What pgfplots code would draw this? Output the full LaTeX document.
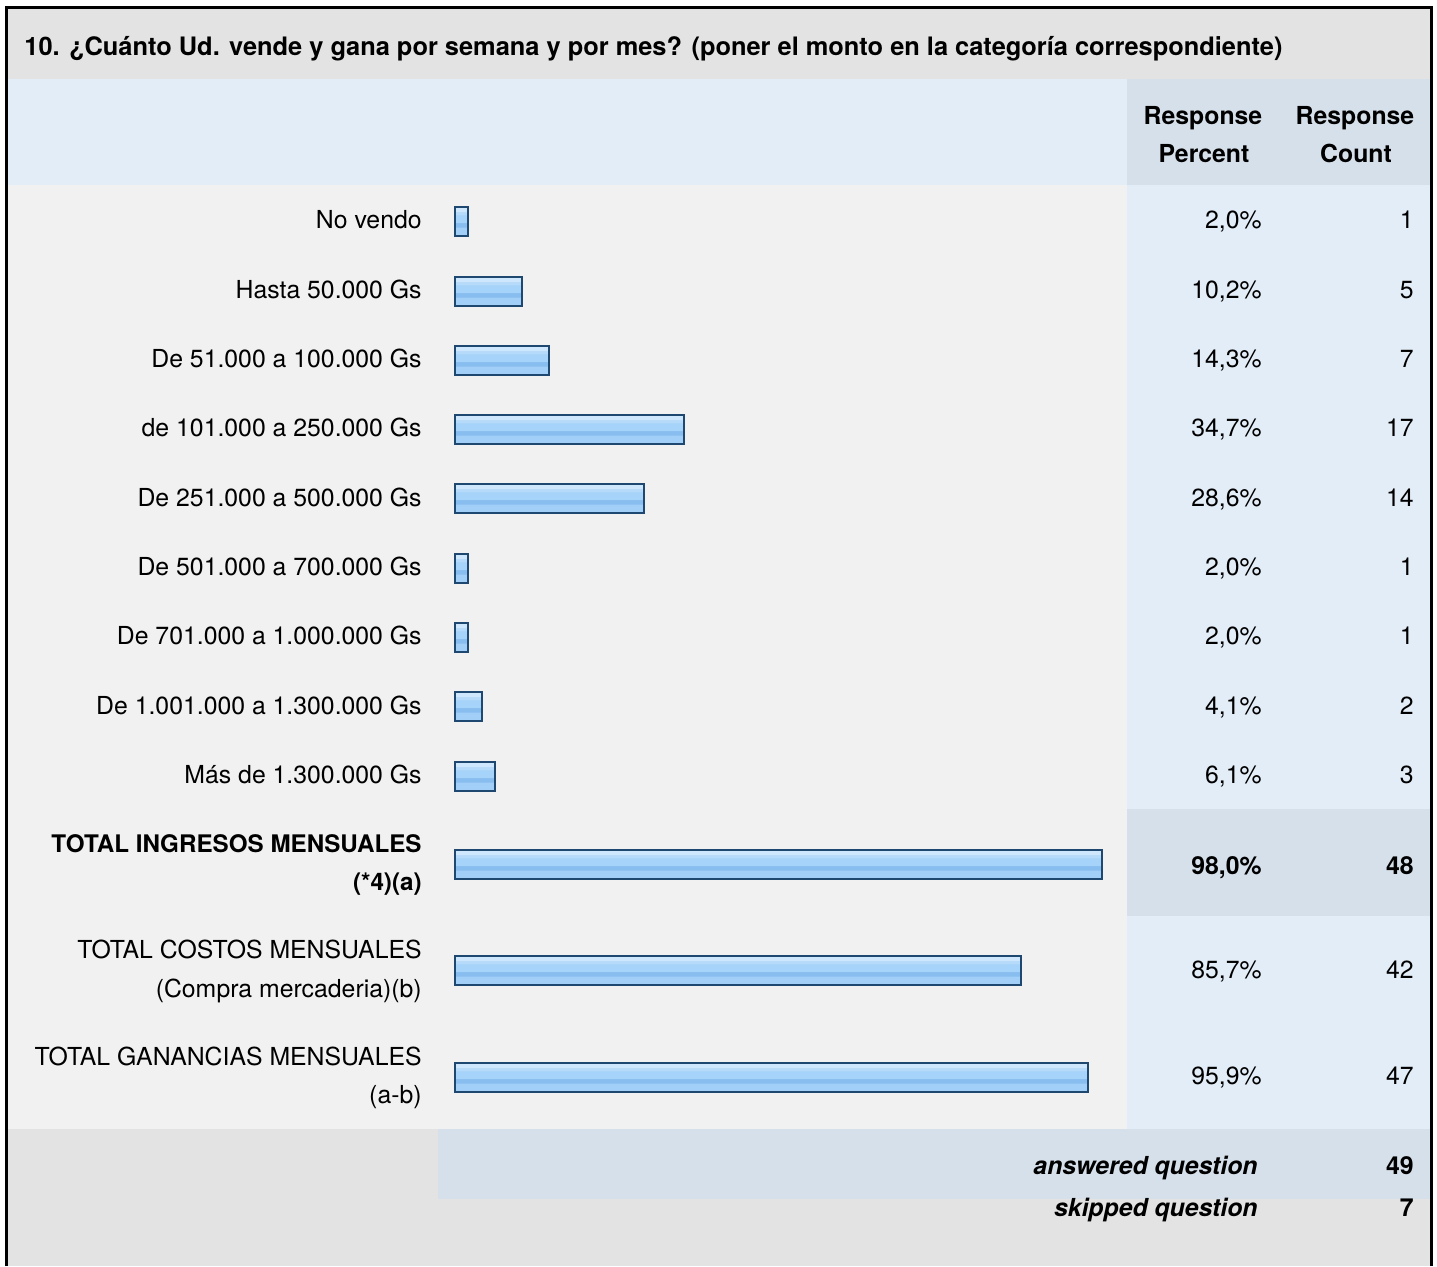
\documentclass[border=0pt]{standalone}
\usepackage{fontspec}
\setmainfont{TeX Gyre Heros}
\usepackage{pgfplots}
\usepackage{pgfplotstable}
\pgfplotsset{compat=1.18}
\definecolor{titlebg}{RGB}{227,227,227}
\definecolor{headbg}{RGB}{227,237,247}
\definecolor{headdark}{RGB}{214,224,234}
\definecolor{rowbg}{RGB}{241,241,241}
\definecolor{colbg}{RGB}{227,237,247}
\definecolor{barline}{RGB}{31,72,112}
\definecolor{s1}{RGB}{206,231,252}
\definecolor{s2}{RGB}{182,218,250}
\definecolor{s3}{RGB}{166,211,249}
\definecolor{s4}{RGB}{136,189,239}
\definecolor{s5}{RGB}{161,207,248}
\pgfplotstableread{
pct ypos
2.0 221
10.2 291
14.3 360
34.7 429
28.6 498
2.0 568
2.0 637
4.1 706
6.1 776
98.0 864
85.7 970
95.9 1077
}\bardata
\begin{document}
\begin{tikzpicture}[every node/.append style={font=\fontsize{12.4}{14}\selectfont, inner sep=0pt}]
\begin{axis}[hide axis, scale only axis, width=718.5pt, height=633pt,
  xmin=0, xmax=1437, ymin=0, ymax=1266, y dir=reverse, clip=false,
  at={(0pt,0pt)}, anchor=south west]
% backgrounds
\fill[titlebg] (axis cs:6,7.5) rectangle (axis cs:1431,79);
\fill[headbg] (axis cs:6,79) rectangle (axis cs:1127,185);
\fill[headdark] (axis cs:1127,79) rectangle (axis cs:1431,185);
\fill[rowbg] (axis cs:6,185) rectangle (axis cs:1127,1129);
\fill[colbg] (axis cs:1127,185) rectangle (axis cs:1431,1129);
\fill[headdark] (axis cs:1127,809) rectangle (axis cs:1431,916);
\fill[titlebg] (axis cs:6,1129) rectangle (axis cs:438,1199);
\fill[headdark] (axis cs:438,1129) rectangle (axis cs:1431,1199);
\fill[titlebg] (axis cs:6,1199) rectangle (axis cs:1431,1266);
\draw[black, line width=1.5pt] (axis cs:6,1266) -- (axis cs:6,7.5) -- (axis cs:1431.5,7.5) -- (axis cs:1431.5,1266);
% title
\node[anchor=base west, font=\fontsize{12.7}{14}\selectfont\bfseries] at (axis cs:24,55) {10. ¿Cuánto Ud. vende y gana por semana y por mes? (poner el monto en la categoría correspondiente)};
% header
\node[anchor=base, font=\fontsize{12.4}{14}\selectfont\bfseries] at (axis cs:1203,124) {Response};
\node[anchor=base, font=\fontsize{12.4}{14}\selectfont\bfseries] at (axis cs:1204,162) {Percent};
\node[anchor=base, font=\fontsize{12.4}{14}\selectfont\bfseries] at (axis cs:1355,124) {Response};
\node[anchor=base, font=\fontsize{12.4}{14}\selectfont\bfseries] at (axis cs:1356,162) {Count};
% labels
\node[anchor=base east] at (axis cs:422,228) {No vendo};
\node[anchor=base east] at (axis cs:422,298) {Hasta 50.000 Gs};
\node[anchor=base east] at (axis cs:422,367) {De 51.000 a 100.000 Gs};
\node[anchor=base east] at (axis cs:422,436) {de 101.000 a 250.000 Gs};
\node[anchor=base east] at (axis cs:422,506) {De 251.000 a 500.000 Gs};
\node[anchor=base east] at (axis cs:422,575) {De 501.000 a 700.000 Gs};
\node[anchor=base east] at (axis cs:422,644) {De 701.000 a 1.000.000 Gs};
\node[anchor=base east] at (axis cs:422,714) {De 1.001.000 a 1.300.000 Gs};
\node[anchor=base east] at (axis cs:422,783) {Más de 1.300.000 Gs};
\node[anchor=base east, font=\fontsize{12.1}{14}\selectfont\bfseries] at (axis cs:422,852) {TOTAL INGRESOS MENSUALES};
\node[anchor=base east, font=\fontsize{12.1}{14}\selectfont\bfseries] at (axis cs:422,890) {(*4)(a)};
\node[anchor=base east] at (axis cs:422,958) {TOTAL COSTOS MENSUALES};
\node[anchor=base east] at (axis cs:422,997) {(Compra mercaderia)(b)};
\node[anchor=base east] at (axis cs:422,1065) {TOTAL GANANCIAS MENSUALES};
\node[anchor=base east] at (axis cs:422,1103) {(a-b)};
% percents
\node[anchor=base east] at (axis cs:1262,228) {2,0\%};
\node[anchor=base east] at (axis cs:1262,298) {10,2\%};
\node[anchor=base east] at (axis cs:1262,367) {14,3\%};
\node[anchor=base east] at (axis cs:1262,436) {34,7\%};
\node[anchor=base east] at (axis cs:1262,506) {28,6\%};
\node[anchor=base east] at (axis cs:1262,575) {2,0\%};
\node[anchor=base east] at (axis cs:1262,644) {2,0\%};
\node[anchor=base east] at (axis cs:1262,714) {4,1\%};
\node[anchor=base east] at (axis cs:1262,783) {6,1\%};
\node[anchor=base east, font=\fontsize{12.4}{14}\selectfont\bfseries] at (axis cs:1262,874) {98,0\%};
\node[anchor=base east] at (axis cs:1262,978) {85,7\%};
\node[anchor=base east] at (axis cs:1262,1084) {95,9\%};
% counts
\node[anchor=base east] at (axis cs:1414,228) {1};
\node[anchor=base east] at (axis cs:1414,298) {5};
\node[anchor=base east] at (axis cs:1414,367) {7};
\node[anchor=base east] at (axis cs:1414,436) {17};
\node[anchor=base east] at (axis cs:1414,506) {14};
\node[anchor=base east] at (axis cs:1414,575) {1};
\node[anchor=base east] at (axis cs:1414,644) {1};
\node[anchor=base east] at (axis cs:1414,714) {2};
\node[anchor=base east] at (axis cs:1414,783) {3};
\node[anchor=base east, font=\fontsize{12.4}{14}\selectfont\bfseries] at (axis cs:1414,874) {48};
\node[anchor=base east] at (axis cs:1414,978) {42};
\node[anchor=base east] at (axis cs:1414,1084) {47};
% footer
\node[anchor=base east, font=\fontsize{12.4}{14}\selectfont\bfseries\itshape] at (axis cs:1258,1174) {answered question};
\node[anchor=base east, font=\fontsize{12.4}{14}\selectfont\bfseries] at (axis cs:1414,1174) {49};
\node[anchor=base east, font=\fontsize{12.4}{14}\selectfont\bfseries\itshape] at (axis cs:1258,1216) {skipped question};
\node[anchor=base east, font=\fontsize{12.4}{14}\selectfont\bfseries] at (axis cs:1414,1216) {7};
\end{axis}
\begin{axis}[hide axis, scale only axis, width=330pt, height=633pt,
  xmin=0, xmax=100, ymin=0, ymax=1266, y dir=reverse, clip=false,
  at={(227.5pt,0pt)}, anchor=south west]
\addplot[xbar, bar width=14.5pt, draw=none, fill=s5] table[x=pct, y=ypos] {\bardata};
\addplot[xbar, bar width=2.3pt, bar shift=-2.17pt, draw=none, fill=s4] table[x=pct, y=ypos] {\bardata};
\addplot[xbar, bar width=3.85pt, bar shift=0.9pt, draw=none, fill=s3] table[x=pct, y=ypos] {\bardata};
\addplot[xbar, bar width=1.65pt, bar shift=3.65pt, draw=none, fill=s2] table[x=pct, y=ypos] {\bardata};
\addplot[xbar, bar width=2.85pt, bar shift=5.9pt, draw=none, fill=s1] table[x=pct, y=ypos] {\bardata};
\addplot[xbar, bar width=14.5pt, draw=barline, line width=1pt, fill=none] table[x=pct, y=ypos] {\bardata};
\end{axis}
\pgfresetboundingbox
\path (0pt,0pt) rectangle (718.5pt,633pt);
\end{tikzpicture}
\end{document}
